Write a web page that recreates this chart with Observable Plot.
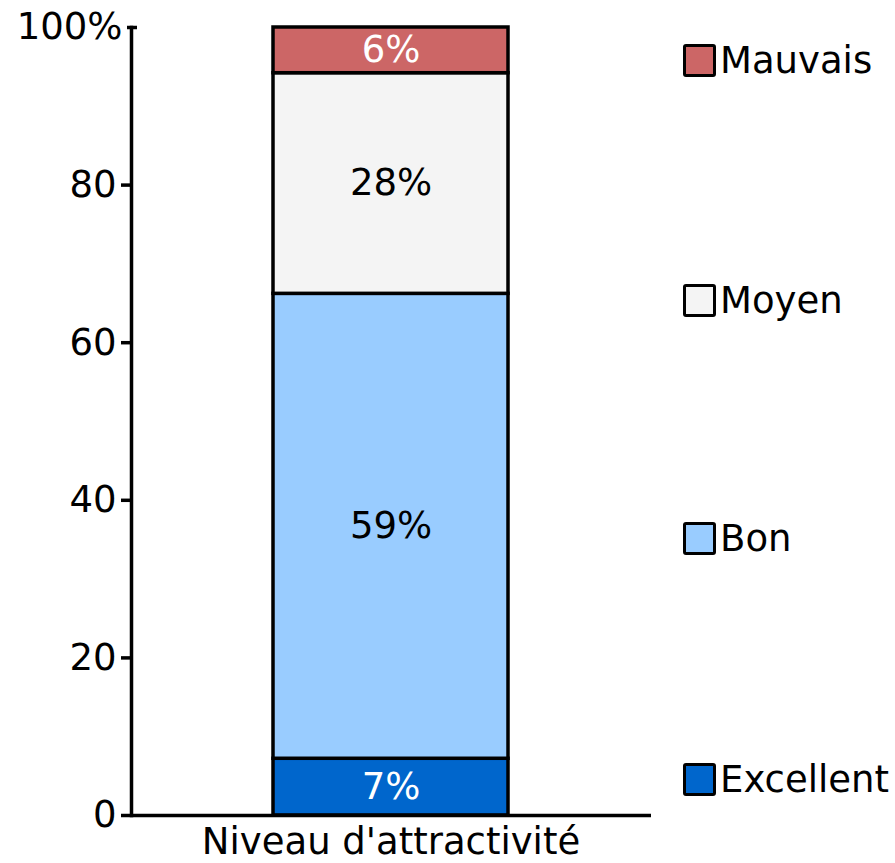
<!DOCTYPE html>
<html><head><meta charset="utf-8">
<script src="https://cdn.jsdelivr.net/npm/d3@7"></script>
<script src="https://cdn.jsdelivr.net/npm/@observablehq/plot@0.6"></script>
<style>
body{margin:0;background:#fff;font-family:"DejaVu Sans",sans-serif;}
#wrap{position:relative;width:895px;height:863px;}
.leg{position:absolute;left:683px;display:flex;align-items:center;font-size:37px;height:34px;line-height:1;color:#000;}
.sw{width:33px;height:33px;box-sizing:border-box;border:3px solid #000;border-radius:3px;margin-right:4px;}
</style></head><body><div id="wrap"></div>
<script>
const categories = ["Excellent", "Bon", "Moyen", "Mauvais"];
const values = [7.2, 59, 28, 5.8];
const labels = ["7%", "59%", "28%", "6%"];
const colors = ["#0066cc", "#99ccff", "#f4f4f4", "#cc6666"];
const labelColors = ["white", "black", "black", "white"];
const group = "Niveau d'attractivité";
const yTicks = [0, 20, 40, 60, 80];
const topTick = [100];

const data = categories.map((c, i) => ({cat: c, value: values[i], label: labels[i], lc: labelColors[i], group}));

const chart = Plot.plot({
  width: 895, height: 863,
  marginLeft: 131, marginRight: 244, marginTop: 27, marginBottom: 48,
  style: {fontFamily: "DejaVu Sans", fontSize: "37px", color: "#000", background: "transparent", overflow: "visible"},
  x: {type: "band", domain: [group], padding: 0.376, label: null},
  y: {domain: [0, 100], label: null},
  color: {domain: categories, range: colors},
  marks: [
    Plot.barY(data, {x: "group", y: "value", z: "cat", fill: "cat", stroke: "#000", strokeWidth: 3.5}),
    Plot.text(data, Plot.stackY({x: "group", y: "value", z: "cat", text: d => d.lc === "white" ? d.label : null, fill: "white"})),
    Plot.text(data, Plot.stackY({x: "group", y: "value", z: "cat", text: d => d.lc === "black" ? d.label : null, fill: "black"})),
    Plot.frame({anchor: "left", strokeWidth: 3.5}),
    Plot.ruleY([0], {strokeWidth: 3.5}),
    Plot.axisY(yTicks, {tickSize: 10, tickPadding: 5, strokeWidth: 3.5, label: null}),
    Plot.axisY(topTick, {tickSize: 10, tickPadding: 5, strokeWidth: 3.5, dx: 6, tickFormat: d => d + "%", label: null}),
    Plot.axisX({tickSize: 0, tickPadding: 12, label: null})
  ]
});
const wrap = document.getElementById("wrap");
wrap.appendChild(chart);

const legendTops = {Mauvais: 43, Moyen: 283, Bon: 521, Excellent: 762};
categories.slice().reverse().forEach(c => {
  const i = categories.indexOf(c);
  const item = document.createElement("div");
  item.className = "leg";
  item.style.top = legendTops[c] + "px";
  const sw = document.createElement("div");
  sw.className = "sw";
  sw.style.background = colors[i];
  const t = document.createElement("span");
  t.textContent = c;
  item.appendChild(sw);
  item.appendChild(t);
  wrap.appendChild(item);
});
</script></body></html>
